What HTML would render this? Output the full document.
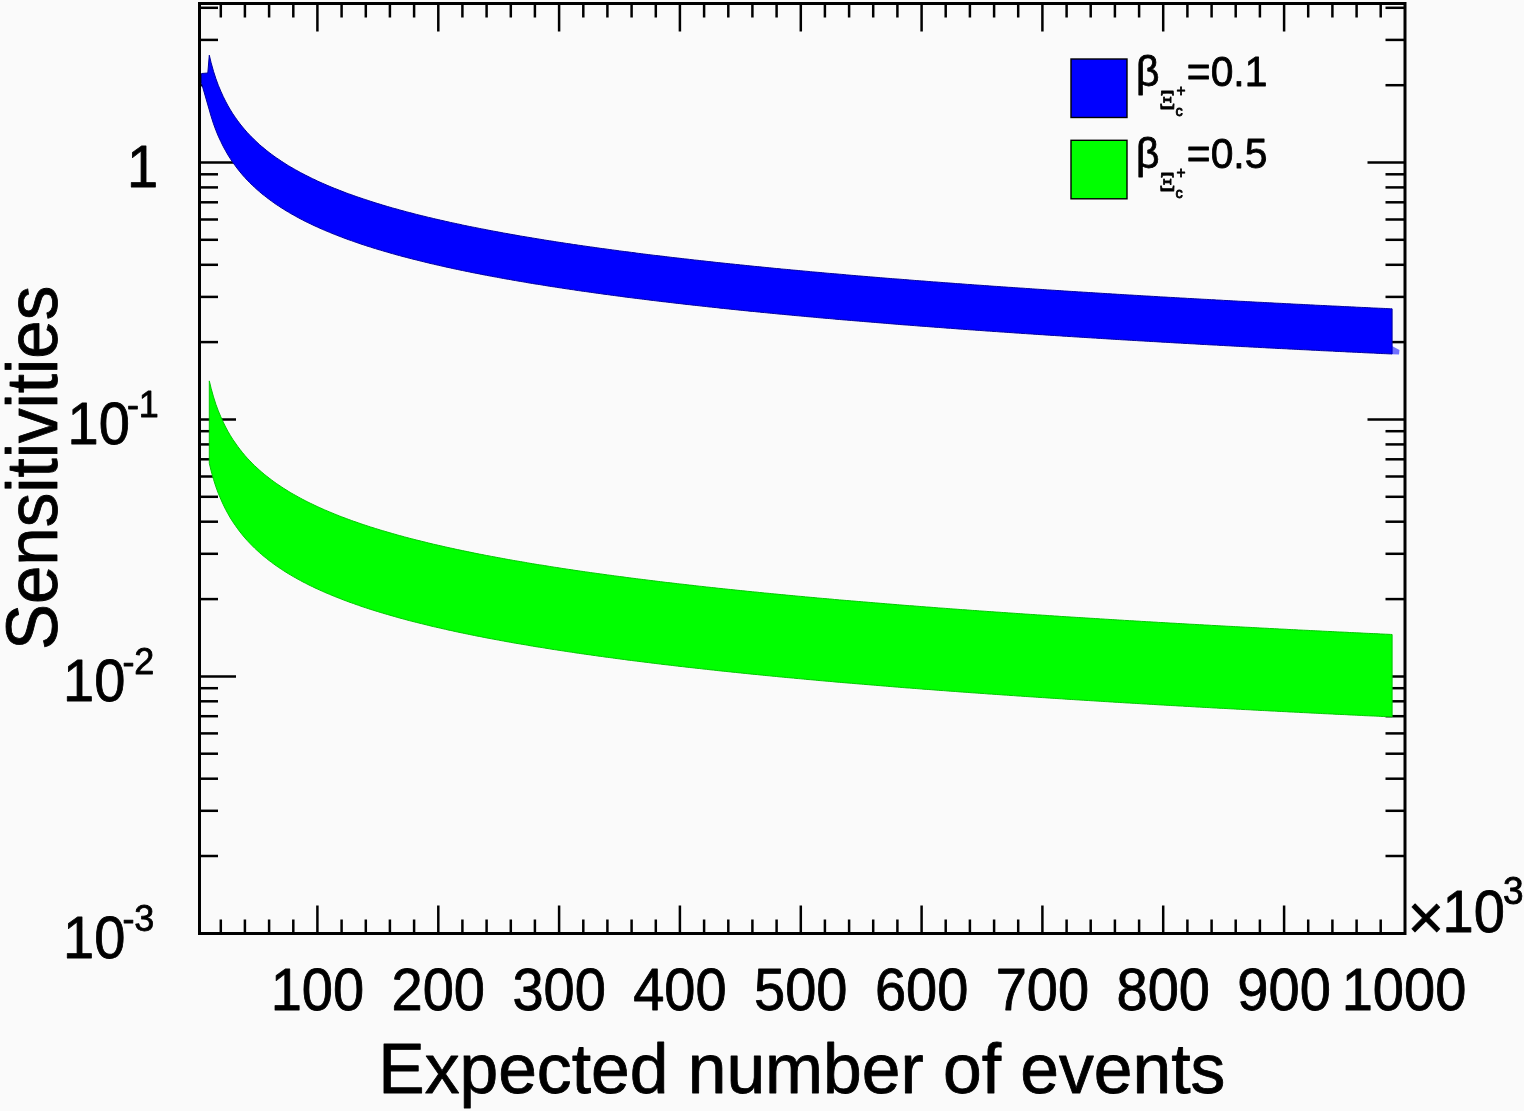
<!DOCTYPE html>
<html><head><meta charset="utf-8"><title>Sensitivities</title>
<style>
html,body{margin:0;padding:0;background:#fafafa;}
body{width:1524px;height:1111px;overflow:hidden;}
svg{display:block;}
text{font-family:"Liberation Sans",sans-serif;fill:#000;stroke:#000;stroke-width:0.8px;stroke-linejoin:round;}
.ser{font-family:"Liberation Serif","DejaVu Serif",serif;}
</style></head><body>
<svg width="1524" height="1111" viewBox="0 0 1524 1111">
<rect x="0" y="0" width="1524" height="1111" fill="#fafafa"/>
<rect x="199.5" y="3.5" width="1205.5" height="930.0" fill="none" stroke="#000" stroke-width="3"/>
<g stroke="#000" stroke-width="2.5">
<line x1="220.8" y1="933.5" x2="220.8" y2="919.5"/>
<line x1="220.8" y1="3.5" x2="220.8" y2="17.5"/>
<line x1="244.9" y1="933.5" x2="244.9" y2="919.5"/>
<line x1="244.9" y1="3.5" x2="244.9" y2="17.5"/>
<line x1="269.1" y1="933.5" x2="269.1" y2="919.5"/>
<line x1="269.1" y1="3.5" x2="269.1" y2="17.5"/>
<line x1="293.3" y1="933.5" x2="293.3" y2="919.5"/>
<line x1="293.3" y1="3.5" x2="293.3" y2="17.5"/>
<line x1="317.4" y1="933.5" x2="317.4" y2="905.5"/>
<line x1="317.4" y1="3.5" x2="317.4" y2="31.5"/>
<line x1="341.6" y1="933.5" x2="341.6" y2="919.5"/>
<line x1="341.6" y1="3.5" x2="341.6" y2="17.5"/>
<line x1="365.8" y1="933.5" x2="365.8" y2="919.5"/>
<line x1="365.8" y1="3.5" x2="365.8" y2="17.5"/>
<line x1="389.9" y1="933.5" x2="389.9" y2="919.5"/>
<line x1="389.9" y1="3.5" x2="389.9" y2="17.5"/>
<line x1="414.1" y1="933.5" x2="414.1" y2="919.5"/>
<line x1="414.1" y1="3.5" x2="414.1" y2="17.5"/>
<line x1="438.3" y1="933.5" x2="438.3" y2="905.5"/>
<line x1="438.3" y1="3.5" x2="438.3" y2="31.5"/>
<line x1="462.4" y1="933.5" x2="462.4" y2="919.5"/>
<line x1="462.4" y1="3.5" x2="462.4" y2="17.5"/>
<line x1="486.6" y1="933.5" x2="486.6" y2="919.5"/>
<line x1="486.6" y1="3.5" x2="486.6" y2="17.5"/>
<line x1="510.8" y1="933.5" x2="510.8" y2="919.5"/>
<line x1="510.8" y1="3.5" x2="510.8" y2="17.5"/>
<line x1="534.9" y1="933.5" x2="534.9" y2="919.5"/>
<line x1="534.9" y1="3.5" x2="534.9" y2="17.5"/>
<line x1="559.1" y1="933.5" x2="559.1" y2="905.5"/>
<line x1="559.1" y1="3.5" x2="559.1" y2="31.5"/>
<line x1="583.3" y1="933.5" x2="583.3" y2="919.5"/>
<line x1="583.3" y1="3.5" x2="583.3" y2="17.5"/>
<line x1="607.4" y1="933.5" x2="607.4" y2="919.5"/>
<line x1="607.4" y1="3.5" x2="607.4" y2="17.5"/>
<line x1="631.6" y1="933.5" x2="631.6" y2="919.5"/>
<line x1="631.6" y1="3.5" x2="631.6" y2="17.5"/>
<line x1="655.8" y1="933.5" x2="655.8" y2="919.5"/>
<line x1="655.8" y1="3.5" x2="655.8" y2="17.5"/>
<line x1="679.9" y1="933.5" x2="679.9" y2="905.5"/>
<line x1="679.9" y1="3.5" x2="679.9" y2="31.5"/>
<line x1="704.1" y1="933.5" x2="704.1" y2="919.5"/>
<line x1="704.1" y1="3.5" x2="704.1" y2="17.5"/>
<line x1="728.3" y1="933.5" x2="728.3" y2="919.5"/>
<line x1="728.3" y1="3.5" x2="728.3" y2="17.5"/>
<line x1="752.4" y1="933.5" x2="752.4" y2="919.5"/>
<line x1="752.4" y1="3.5" x2="752.4" y2="17.5"/>
<line x1="776.6" y1="933.5" x2="776.6" y2="919.5"/>
<line x1="776.6" y1="3.5" x2="776.6" y2="17.5"/>
<line x1="800.8" y1="933.5" x2="800.8" y2="905.5"/>
<line x1="800.8" y1="3.5" x2="800.8" y2="31.5"/>
<line x1="824.9" y1="933.5" x2="824.9" y2="919.5"/>
<line x1="824.9" y1="3.5" x2="824.9" y2="17.5"/>
<line x1="849.1" y1="933.5" x2="849.1" y2="919.5"/>
<line x1="849.1" y1="3.5" x2="849.1" y2="17.5"/>
<line x1="873.2" y1="933.5" x2="873.2" y2="919.5"/>
<line x1="873.2" y1="3.5" x2="873.2" y2="17.5"/>
<line x1="897.4" y1="933.5" x2="897.4" y2="919.5"/>
<line x1="897.4" y1="3.5" x2="897.4" y2="17.5"/>
<line x1="921.6" y1="933.5" x2="921.6" y2="905.5"/>
<line x1="921.6" y1="3.5" x2="921.6" y2="31.5"/>
<line x1="945.7" y1="933.5" x2="945.7" y2="919.5"/>
<line x1="945.7" y1="3.5" x2="945.7" y2="17.5"/>
<line x1="969.9" y1="933.5" x2="969.9" y2="919.5"/>
<line x1="969.9" y1="3.5" x2="969.9" y2="17.5"/>
<line x1="994.1" y1="933.5" x2="994.1" y2="919.5"/>
<line x1="994.1" y1="3.5" x2="994.1" y2="17.5"/>
<line x1="1018.2" y1="933.5" x2="1018.2" y2="919.5"/>
<line x1="1018.2" y1="3.5" x2="1018.2" y2="17.5"/>
<line x1="1042.4" y1="933.5" x2="1042.4" y2="905.5"/>
<line x1="1042.4" y1="3.5" x2="1042.4" y2="31.5"/>
<line x1="1066.6" y1="933.5" x2="1066.6" y2="919.5"/>
<line x1="1066.6" y1="3.5" x2="1066.6" y2="17.5"/>
<line x1="1090.7" y1="933.5" x2="1090.7" y2="919.5"/>
<line x1="1090.7" y1="3.5" x2="1090.7" y2="17.5"/>
<line x1="1114.9" y1="933.5" x2="1114.9" y2="919.5"/>
<line x1="1114.9" y1="3.5" x2="1114.9" y2="17.5"/>
<line x1="1139.1" y1="933.5" x2="1139.1" y2="919.5"/>
<line x1="1139.1" y1="3.5" x2="1139.1" y2="17.5"/>
<line x1="1163.2" y1="933.5" x2="1163.2" y2="905.5"/>
<line x1="1163.2" y1="3.5" x2="1163.2" y2="31.5"/>
<line x1="1187.4" y1="933.5" x2="1187.4" y2="919.5"/>
<line x1="1187.4" y1="3.5" x2="1187.4" y2="17.5"/>
<line x1="1211.6" y1="933.5" x2="1211.6" y2="919.5"/>
<line x1="1211.6" y1="3.5" x2="1211.6" y2="17.5"/>
<line x1="1235.7" y1="933.5" x2="1235.7" y2="919.5"/>
<line x1="1235.7" y1="3.5" x2="1235.7" y2="17.5"/>
<line x1="1259.9" y1="933.5" x2="1259.9" y2="919.5"/>
<line x1="1259.9" y1="3.5" x2="1259.9" y2="17.5"/>
<line x1="1284.1" y1="933.5" x2="1284.1" y2="905.5"/>
<line x1="1284.1" y1="3.5" x2="1284.1" y2="31.5"/>
<line x1="1308.2" y1="933.5" x2="1308.2" y2="919.5"/>
<line x1="1308.2" y1="3.5" x2="1308.2" y2="17.5"/>
<line x1="1332.4" y1="933.5" x2="1332.4" y2="919.5"/>
<line x1="1332.4" y1="3.5" x2="1332.4" y2="17.5"/>
<line x1="1356.6" y1="933.5" x2="1356.6" y2="919.5"/>
<line x1="1356.6" y1="3.5" x2="1356.6" y2="17.5"/>
<line x1="1380.7" y1="933.5" x2="1380.7" y2="919.5"/>
<line x1="1380.7" y1="3.5" x2="1380.7" y2="17.5"/>
<line x1="199.5" y1="856.0" x2="218.0" y2="856.0"/>
<line x1="1405.0" y1="856.0" x2="1385.5" y2="856.0"/>
<line x1="199.5" y1="810.8" x2="218.0" y2="810.8"/>
<line x1="1405.0" y1="810.8" x2="1385.5" y2="810.8"/>
<line x1="199.5" y1="778.7" x2="218.0" y2="778.7"/>
<line x1="1405.0" y1="778.7" x2="1385.5" y2="778.7"/>
<line x1="199.5" y1="753.7" x2="218.0" y2="753.7"/>
<line x1="1405.0" y1="753.7" x2="1385.5" y2="753.7"/>
<line x1="199.5" y1="733.4" x2="218.0" y2="733.4"/>
<line x1="1405.0" y1="733.4" x2="1385.5" y2="733.4"/>
<line x1="199.5" y1="716.2" x2="218.0" y2="716.2"/>
<line x1="1405.0" y1="716.2" x2="1385.5" y2="716.2"/>
<line x1="199.5" y1="701.3" x2="218.0" y2="701.3"/>
<line x1="1405.0" y1="701.3" x2="1385.5" y2="701.3"/>
<line x1="199.5" y1="688.2" x2="218.0" y2="688.2"/>
<line x1="1405.0" y1="688.2" x2="1385.5" y2="688.2"/>
<line x1="199.5" y1="676.4" x2="236.0" y2="676.4"/>
<line x1="1405.0" y1="676.4" x2="1367.5" y2="676.4"/>
<line x1="199.5" y1="599.1" x2="218.0" y2="599.1"/>
<line x1="1405.0" y1="599.1" x2="1385.5" y2="599.1"/>
<line x1="199.5" y1="553.8" x2="218.0" y2="553.8"/>
<line x1="1405.0" y1="553.8" x2="1385.5" y2="553.8"/>
<line x1="199.5" y1="521.7" x2="218.0" y2="521.7"/>
<line x1="1405.0" y1="521.7" x2="1385.5" y2="521.7"/>
<line x1="199.5" y1="496.8" x2="218.0" y2="496.8"/>
<line x1="1405.0" y1="496.8" x2="1385.5" y2="496.8"/>
<line x1="199.5" y1="476.5" x2="218.0" y2="476.5"/>
<line x1="1405.0" y1="476.5" x2="1385.5" y2="476.5"/>
<line x1="199.5" y1="459.3" x2="218.0" y2="459.3"/>
<line x1="1405.0" y1="459.3" x2="1385.5" y2="459.3"/>
<line x1="199.5" y1="444.4" x2="218.0" y2="444.4"/>
<line x1="1405.0" y1="444.4" x2="1385.5" y2="444.4"/>
<line x1="199.5" y1="431.2" x2="218.0" y2="431.2"/>
<line x1="1405.0" y1="431.2" x2="1385.5" y2="431.2"/>
<line x1="199.5" y1="419.4" x2="236.0" y2="419.4"/>
<line x1="1405.0" y1="419.4" x2="1367.5" y2="419.4"/>
<line x1="199.5" y1="342.1" x2="218.0" y2="342.1"/>
<line x1="1405.0" y1="342.1" x2="1385.5" y2="342.1"/>
<line x1="199.5" y1="296.9" x2="218.0" y2="296.9"/>
<line x1="1405.0" y1="296.9" x2="1385.5" y2="296.9"/>
<line x1="199.5" y1="264.8" x2="218.0" y2="264.8"/>
<line x1="1405.0" y1="264.8" x2="1385.5" y2="264.8"/>
<line x1="199.5" y1="239.8" x2="218.0" y2="239.8"/>
<line x1="1405.0" y1="239.8" x2="1385.5" y2="239.8"/>
<line x1="199.5" y1="219.5" x2="218.0" y2="219.5"/>
<line x1="1405.0" y1="219.5" x2="1385.5" y2="219.5"/>
<line x1="199.5" y1="202.3" x2="218.0" y2="202.3"/>
<line x1="1405.0" y1="202.3" x2="1385.5" y2="202.3"/>
<line x1="199.5" y1="187.4" x2="218.0" y2="187.4"/>
<line x1="1405.0" y1="187.4" x2="1385.5" y2="187.4"/>
<line x1="199.5" y1="174.3" x2="218.0" y2="174.3"/>
<line x1="1405.0" y1="174.3" x2="1385.5" y2="174.3"/>
<line x1="199.5" y1="162.5" x2="236.0" y2="162.5"/>
<line x1="1405.0" y1="162.5" x2="1367.5" y2="162.5"/>
<line x1="199.5" y1="85.2" x2="218.0" y2="85.2"/>
<line x1="1405.0" y1="85.2" x2="1385.5" y2="85.2"/>
<line x1="199.5" y1="39.9" x2="218.0" y2="39.9"/>
<line x1="1405.0" y1="39.9" x2="1385.5" y2="39.9"/>
<line x1="199.5" y1="7.8" x2="218.0" y2="7.8"/>
<line x1="1405.0" y1="7.8" x2="1385.5" y2="7.8"/>
</g>
<polygon points="201.5,83.0 201.5,73.5 207.8,73.0 209.3,55.2 211.1,62.7 213.5,71.3 215.9,78.7 218.3,85.3 220.8,91.2 223.2,96.5 225.6,101.3 228.0,105.8 230.4,109.9 232.8,113.8 235.3,117.4 237.7,120.8 240.1,124.0 242.5,127.0 244.9,129.8 247.3,132.6 249.8,135.2 252.2,137.6 254.6,140.0 257.0,142.3 259.4,144.5 261.8,146.6 264.3,148.6 266.7,150.6 269.1,152.5 271.5,154.3 273.9,156.1 276.3,157.8 278.8,159.4 281.2,161.1 283.6,162.6 286.0,164.2 288.4,165.7 290.8,167.1 293.3,168.5 295.7,169.9 298.1,171.2 300.5,172.6 302.9,173.8 305.3,175.1 307.8,176.3 310.2,177.5 312.6,178.7 315.0,179.8 317.4,181.0 319.8,182.1 322.3,183.2 324.7,184.2 327.1,185.3 329.5,186.3 331.9,187.3 334.3,188.3 336.8,189.2 339.2,190.2 341.6,191.1 344.0,192.1 346.4,193.0 348.8,193.9 351.3,194.7 353.7,195.6 356.1,196.5 358.5,197.3 360.9,198.1 363.3,198.9 365.8,199.7 368.2,200.5 370.6,201.3 373.0,202.1 375.4,202.8 377.8,203.6 380.3,204.3 382.7,205.1 385.1,205.8 387.5,206.5 389.9,207.2 392.3,207.9 394.8,208.6 397.2,209.2 399.6,209.9 402.0,210.6 404.4,211.2 406.8,211.9 409.3,212.5 411.7,213.1 414.1,213.8 416.5,214.4 418.9,215.0 421.3,215.6 423.8,216.2 426.2,216.8 428.6,217.4 431.0,217.9 433.4,218.5 435.8,219.1 438.3,219.6 440.7,220.2 443.1,220.7 445.5,221.3 447.9,221.8 450.3,222.4 452.8,222.9 455.2,223.4 457.6,223.9 460.0,224.4 462.4,225.0 464.8,225.5 467.3,226.0 469.7,226.5 472.1,227.0 474.5,227.4 476.9,227.9 479.3,228.4 481.8,228.9 484.2,229.3 486.6,229.8 489.0,230.3 491.4,230.7 493.8,231.2 496.3,231.6 498.7,232.1 501.1,232.5 503.5,233.0 505.9,233.4 508.3,233.8 510.8,234.3 513.2,234.7 515.6,235.1 518.0,235.6 520.4,236.0 522.8,236.4 525.3,236.8 527.7,237.2 530.1,237.6 532.5,238.0 534.9,238.4 537.3,238.8 539.8,239.2 542.2,239.6 544.6,240.0 547.0,240.4 549.4,240.8 551.8,241.1 554.3,241.5 556.7,241.9 559.1,242.3 561.5,242.6 563.9,243.0 566.3,243.4 568.8,243.7 571.2,244.1 573.6,244.5 576.0,244.8 578.4,245.2 580.8,245.5 583.3,245.9 585.7,246.2 588.1,246.6 590.5,246.9 592.9,247.2 595.3,247.6 597.8,247.9 600.2,248.3 602.6,248.6 605.0,248.9 607.4,249.2 609.8,249.6 612.3,249.9 614.7,250.2 617.1,250.5 619.5,250.9 621.9,251.2 624.3,251.5 626.8,251.8 629.2,252.1 631.6,252.4 634.0,252.7 636.4,253.1 638.8,253.4 641.3,253.7 643.7,254.0 646.1,254.3 648.5,254.6 650.9,254.9 653.3,255.2 655.8,255.5 658.2,255.7 660.6,256.0 663.0,256.3 665.4,256.6 667.8,256.9 670.3,257.2 672.7,257.5 675.1,257.8 677.5,258.0 679.9,258.3 682.3,258.6 684.8,258.9 687.2,259.1 689.6,259.4 692.0,259.7 694.4,260.0 696.8,260.2 699.3,260.5 701.7,260.8 704.1,261.0 706.5,261.3 708.9,261.6 711.3,261.8 713.8,262.1 716.2,262.4 718.6,262.6 721.0,262.9 723.4,263.1 725.8,263.4 728.3,263.6 730.7,263.9 733.1,264.1 735.5,264.4 737.9,264.6 740.3,264.9 742.8,265.1 745.2,265.4 747.6,265.6 750.0,265.9 752.4,266.1 754.8,266.4 757.3,266.6 759.7,266.8 762.1,267.1 764.5,267.3 766.9,267.6 769.3,267.8 771.8,268.0 774.2,268.3 776.6,268.5 779.0,268.7 781.4,269.0 783.8,269.2 786.3,269.4 788.7,269.6 791.1,269.9 793.5,270.1 795.9,270.3 798.3,270.5 800.8,270.8 803.2,271.0 805.6,271.2 808.0,271.4 810.4,271.7 812.8,271.9 815.2,272.1 817.7,272.3 820.1,272.5 822.5,272.7 824.9,273.0 827.3,273.2 829.7,273.4 832.2,273.6 834.6,273.8 837.0,274.0 839.4,274.2 841.8,274.4 844.2,274.6 846.7,274.9 849.1,275.1 851.5,275.3 853.9,275.5 856.3,275.7 858.7,275.9 861.2,276.1 863.6,276.3 866.0,276.5 868.4,276.7 870.8,276.9 873.2,277.1 875.7,277.3 878.1,277.5 880.5,277.7 882.9,277.9 885.3,278.1 887.7,278.3 890.2,278.5 892.6,278.7 895.0,278.9 897.4,279.0 899.8,279.2 902.2,279.4 904.7,279.6 907.1,279.8 909.5,280.0 911.9,280.2 914.3,280.4 916.7,280.6 919.2,280.8 921.6,280.9 924.0,281.1 926.4,281.3 928.8,281.5 931.2,281.7 933.7,281.9 936.1,282.0 938.5,282.2 940.9,282.4 943.3,282.6 945.7,282.8 948.2,282.9 950.6,283.1 953.0,283.3 955.4,283.5 957.8,283.7 960.2,283.8 962.7,284.0 965.1,284.2 967.5,284.4 969.9,284.5 972.3,284.7 974.7,284.9 977.2,285.1 979.6,285.2 982.0,285.4 984.4,285.6 986.8,285.7 989.2,285.9 991.7,286.1 994.1,286.3 996.5,286.4 998.9,286.6 1001.3,286.8 1003.7,286.9 1006.2,287.1 1008.6,287.3 1011.0,287.4 1013.4,287.6 1015.8,287.8 1018.2,287.9 1020.7,288.1 1023.1,288.2 1025.5,288.4 1027.9,288.6 1030.3,288.7 1032.7,288.9 1035.2,289.1 1037.6,289.2 1040.0,289.4 1042.4,289.5 1044.8,289.7 1047.2,289.9 1049.7,290.0 1052.1,290.2 1054.5,290.3 1056.9,290.5 1059.3,290.6 1061.7,290.8 1064.2,291.0 1066.6,291.1 1069.0,291.3 1071.4,291.4 1073.8,291.6 1076.2,291.7 1078.7,291.9 1081.1,292.0 1083.5,292.2 1085.9,292.3 1088.3,292.5 1090.7,292.6 1093.2,292.8 1095.6,292.9 1098.0,293.1 1100.4,293.2 1102.8,293.4 1105.2,293.5 1107.7,293.7 1110.1,293.8 1112.5,294.0 1114.9,294.1 1117.3,294.3 1119.7,294.4 1122.2,294.6 1124.6,294.7 1127.0,294.9 1129.4,295.0 1131.8,295.1 1134.2,295.3 1136.7,295.4 1139.1,295.6 1141.5,295.7 1143.9,295.9 1146.3,296.0 1148.7,296.1 1151.2,296.3 1153.6,296.4 1156.0,296.6 1158.4,296.7 1160.8,296.9 1163.2,297.0 1165.7,297.1 1168.1,297.3 1170.5,297.4 1172.9,297.5 1175.3,297.7 1177.7,297.8 1180.2,298.0 1182.6,298.1 1185.0,298.2 1187.4,298.4 1189.8,298.5 1192.2,298.6 1194.7,298.8 1197.1,298.9 1199.5,299.0 1201.9,299.2 1204.3,299.3 1206.7,299.4 1209.2,299.6 1211.6,299.7 1214.0,299.8 1216.4,300.0 1218.8,300.1 1221.2,300.2 1223.7,300.4 1226.1,300.5 1228.5,300.6 1230.9,300.8 1233.3,300.9 1235.7,301.0 1238.2,301.2 1240.6,301.3 1243.0,301.4 1245.4,301.5 1247.8,301.7 1250.2,301.8 1252.7,301.9 1255.1,302.1 1257.5,302.2 1259.9,302.3 1262.3,302.4 1264.7,302.6 1267.2,302.7 1269.6,302.8 1272.0,302.9 1274.4,303.1 1276.8,303.2 1279.2,303.3 1281.7,303.4 1284.1,303.6 1286.5,303.7 1288.9,303.8 1291.3,303.9 1293.7,304.1 1296.2,304.2 1298.6,304.3 1301.0,304.4 1303.4,304.5 1305.8,304.7 1308.2,304.8 1310.7,304.9 1313.1,305.0 1315.5,305.2 1317.9,305.3 1320.3,305.4 1322.7,305.5 1325.2,305.6 1327.6,305.8 1330.0,305.9 1332.4,306.0 1334.8,306.1 1337.2,306.2 1339.7,306.3 1342.1,306.5 1344.5,306.6 1346.9,306.7 1349.3,306.8 1351.7,306.9 1354.2,307.0 1356.6,307.2 1359.0,307.3 1361.4,307.4 1363.8,307.5 1366.2,307.6 1368.7,307.7 1371.1,307.9 1373.5,308.0 1375.9,308.1 1378.3,308.2 1380.7,308.3 1383.2,308.4 1385.6,308.5 1388.0,308.7 1390.4,308.8 1392.1,308.8 1392.1,354.0 1390.4,353.9 1388.0,353.8 1385.6,353.7 1383.2,353.6 1380.7,353.5 1378.3,353.4 1375.9,353.2 1373.5,353.1 1371.1,353.0 1368.7,352.9 1366.2,352.8 1363.8,352.7 1361.4,352.5 1359.0,352.4 1356.6,352.3 1354.2,352.2 1351.7,352.1 1349.3,352.0 1346.9,351.9 1344.5,351.7 1342.1,351.6 1339.7,351.5 1337.2,351.4 1334.8,351.3 1332.4,351.1 1330.0,351.0 1327.6,350.9 1325.2,350.8 1322.7,350.7 1320.3,350.6 1317.9,350.4 1315.5,350.3 1313.1,350.2 1310.7,350.1 1308.2,349.9 1305.8,349.8 1303.4,349.7 1301.0,349.6 1298.6,349.5 1296.2,349.3 1293.7,349.2 1291.3,349.1 1288.9,349.0 1286.5,348.8 1284.1,348.7 1281.7,348.6 1279.2,348.5 1276.8,348.4 1274.4,348.2 1272.0,348.1 1269.6,348.0 1267.2,347.9 1264.7,347.7 1262.3,347.6 1259.9,347.5 1257.5,347.3 1255.1,347.2 1252.7,347.1 1250.2,347.0 1247.8,346.8 1245.4,346.7 1243.0,346.6 1240.6,346.5 1238.2,346.3 1235.7,346.2 1233.3,346.1 1230.9,345.9 1228.5,345.8 1226.1,345.7 1223.7,345.5 1221.2,345.4 1218.8,345.3 1216.4,345.1 1214.0,345.0 1211.6,344.9 1209.2,344.8 1206.7,344.6 1204.3,344.5 1201.9,344.4 1199.5,344.2 1197.1,344.1 1194.7,343.9 1192.2,343.8 1189.8,343.7 1187.4,343.5 1185.0,343.4 1182.6,343.3 1180.2,343.1 1177.7,343.0 1175.3,342.9 1172.9,342.7 1170.5,342.6 1168.1,342.4 1165.7,342.3 1163.2,342.2 1160.8,342.0 1158.4,341.9 1156.0,341.7 1153.6,341.6 1151.2,341.5 1148.7,341.3 1146.3,341.2 1143.9,341.0 1141.5,340.9 1139.1,340.8 1136.7,340.6 1134.2,340.5 1131.8,340.3 1129.4,340.2 1127.0,340.0 1124.6,339.9 1122.2,339.8 1119.7,339.6 1117.3,339.5 1114.9,339.3 1112.5,339.2 1110.1,339.0 1107.7,338.9 1105.2,338.7 1102.8,338.6 1100.4,338.4 1098.0,338.3 1095.6,338.1 1093.2,338.0 1090.7,337.8 1088.3,337.7 1085.9,337.5 1083.5,337.4 1081.1,337.2 1078.7,337.1 1076.2,336.9 1073.8,336.8 1071.4,336.6 1069.0,336.5 1066.6,336.3 1064.2,336.2 1061.7,336.0 1059.3,335.8 1056.9,335.7 1054.5,335.5 1052.1,335.4 1049.7,335.2 1047.2,335.1 1044.8,334.9 1042.4,334.7 1040.0,334.6 1037.6,334.4 1035.2,334.3 1032.7,334.1 1030.3,333.9 1027.9,333.8 1025.5,333.6 1023.1,333.5 1020.7,333.3 1018.2,333.1 1015.8,333.0 1013.4,332.8 1011.0,332.6 1008.6,332.5 1006.2,332.3 1003.7,332.1 1001.3,332.0 998.9,331.8 996.5,331.6 994.1,331.5 991.7,331.3 989.2,331.1 986.8,331.0 984.4,330.8 982.0,330.6 979.6,330.4 977.2,330.3 974.7,330.1 972.3,329.9 969.9,329.8 967.5,329.6 965.1,329.4 962.7,329.2 960.2,329.1 957.8,328.9 955.4,328.7 953.0,328.5 950.6,328.3 948.2,328.2 945.7,328.0 943.3,327.8 940.9,327.6 938.5,327.4 936.1,327.3 933.7,327.1 931.2,326.9 928.8,326.7 926.4,326.5 924.0,326.3 921.6,326.2 919.2,326.0 916.7,325.8 914.3,325.6 911.9,325.4 909.5,325.2 907.1,325.0 904.7,324.9 902.2,324.7 899.8,324.5 897.4,324.3 895.0,324.1 892.6,323.9 890.2,323.7 887.7,323.5 885.3,323.3 882.9,323.1 880.5,322.9 878.1,322.7 875.7,322.5 873.2,322.3 870.8,322.1 868.4,321.9 866.0,321.7 863.6,321.5 861.2,321.3 858.7,321.1 856.3,320.9 853.9,320.7 851.5,320.5 849.1,320.3 846.7,320.1 844.2,319.9 841.8,319.7 839.4,319.5 837.0,319.3 834.6,319.1 832.2,318.8 829.7,318.6 827.3,318.4 824.9,318.2 822.5,318.0 820.1,317.8 817.7,317.6 815.2,317.3 812.8,317.1 810.4,316.9 808.0,316.7 805.6,316.5 803.2,316.2 800.8,316.0 798.3,315.8 795.9,315.6 793.5,315.4 791.1,315.1 788.7,314.9 786.3,314.7 783.8,314.4 781.4,314.2 779.0,314.0 776.6,313.8 774.2,313.5 771.8,313.3 769.3,313.1 766.9,312.8 764.5,312.6 762.1,312.4 759.7,312.1 757.3,311.9 754.8,311.6 752.4,311.4 750.0,311.2 747.6,310.9 745.2,310.7 742.8,310.4 740.3,310.2 737.9,309.9 735.5,309.7 733.1,309.4 730.7,309.2 728.3,308.9 725.8,308.7 723.4,308.4 721.0,308.2 718.6,307.9 716.2,307.6 713.8,307.4 711.3,307.1 708.9,306.9 706.5,306.6 704.1,306.3 701.7,306.1 699.3,305.8 696.8,305.5 694.4,305.3 692.0,305.0 689.6,304.7 687.2,304.5 684.8,304.2 682.3,303.9 679.9,303.6 677.5,303.4 675.1,303.1 672.7,302.8 670.3,302.5 667.8,302.2 665.4,301.9 663.0,301.7 660.6,301.4 658.2,301.1 655.8,300.8 653.3,300.5 650.9,300.2 648.5,299.9 646.1,299.6 643.7,299.3 641.3,299.0 638.8,298.7 636.4,298.4 634.0,298.1 631.6,297.8 629.2,297.5 626.8,297.2 624.3,296.9 621.9,296.5 619.5,296.2 617.1,295.9 614.7,295.6 612.3,295.3 609.8,294.9 607.4,294.6 605.0,294.3 602.6,294.0 600.2,293.6 597.8,293.3 595.3,293.0 592.9,292.6 590.5,292.3 588.1,291.9 585.7,291.6 583.3,291.3 580.8,290.9 578.4,290.6 576.0,290.2 573.6,289.8 571.2,289.5 568.8,289.1 566.3,288.8 563.9,288.4 561.5,288.0 559.1,287.7 556.7,287.3 554.3,286.9 551.8,286.6 549.4,286.2 547.0,285.8 544.6,285.4 542.2,285.0 539.8,284.6 537.3,284.2 534.9,283.9 532.5,283.5 530.1,283.1 527.7,282.7 525.3,282.2 522.8,281.8 520.4,281.4 518.0,281.0 515.6,280.6 513.2,280.2 510.8,279.7 508.3,279.3 505.9,278.9 503.5,278.5 501.1,278.0 498.7,277.6 496.3,277.1 493.8,276.7 491.4,276.2 489.0,275.8 486.6,275.3 484.2,274.9 481.8,274.4 479.3,273.9 476.9,273.4 474.5,273.0 472.1,272.5 469.7,272.0 467.3,271.5 464.8,271.0 462.4,270.5 460.0,270.0 457.6,269.5 455.2,269.0 452.8,268.5 450.3,267.9 447.9,267.4 445.5,266.9 443.1,266.3 440.7,265.8 438.3,265.2 435.8,264.7 433.4,264.1 431.0,263.6 428.6,263.0 426.2,262.4 423.8,261.8 421.3,261.2 418.9,260.6 416.5,260.0 414.1,259.4 411.7,258.8 409.3,258.2 406.8,257.5 404.4,256.9 402.0,256.3 399.6,255.6 397.2,255.0 394.8,254.3 392.3,253.6 389.9,252.9 387.5,252.2 385.1,251.5 382.7,250.8 380.3,250.1 377.8,249.4 375.4,248.6 373.0,247.9 370.6,247.1 368.2,246.4 365.8,245.6 363.3,244.8 360.9,244.0 358.5,243.2 356.1,242.3 353.7,241.5 351.3,240.6 348.8,239.8 346.4,238.9 344.0,238.0 341.6,237.1 339.2,236.2 336.8,235.2 334.3,234.3 331.9,233.3 329.5,232.3 327.1,231.3 324.7,230.3 322.3,229.3 319.8,228.2 317.4,227.1 315.0,226.0 312.6,224.9 310.2,223.7 307.8,222.6 305.3,221.4 302.9,220.1 300.5,218.9 298.1,217.6 295.7,216.3 293.3,214.9 290.8,213.6 288.4,212.1 286.0,210.7 283.6,209.2 281.2,207.7 278.8,206.1 276.3,204.5 273.9,202.8 271.5,201.1 269.1,199.3 266.7,197.5 264.3,195.6 261.8,193.7 259.4,191.6 257.0,189.5 254.6,187.3 252.2,185.1 249.8,182.7 247.3,180.2 244.9,177.6 242.5,174.9 240.1,172.0 237.7,169.0 235.3,165.8 232.8,162.4 230.4,158.8 228.0,155.0 225.6,150.8 223.2,146.4 220.8,141.5 218.3,136.2 215.9,130.3 213.5,123.8 211.1,116.3 209.3,110.0" fill="#0000ff" stroke="#0000a0" stroke-width="1" stroke-linejoin="round"/>
<polygon points="209.3,380.9 211.1,388.3 213.5,396.9 215.9,404.4 218.3,410.9 220.8,416.8 223.2,422.1 225.6,427.0 228.0,431.5 230.4,435.6 232.8,439.4 235.3,443.0 237.7,446.4 240.1,449.6 242.5,452.6 244.9,455.5 247.3,458.2 249.8,460.8 252.2,463.3 254.6,465.7 257.0,467.9 259.4,470.1 261.8,472.2 264.3,474.3 266.7,476.2 269.1,478.1 271.5,479.9 273.9,481.7 276.3,483.4 278.8,485.1 281.2,486.7 283.6,488.3 286.0,489.8 288.4,491.3 290.8,492.8 293.3,494.2 295.7,495.5 298.1,496.9 300.5,498.2 302.9,499.5 305.3,500.7 307.8,502.0 310.2,503.2 312.6,504.3 315.0,505.5 317.4,506.6 319.8,507.7 322.3,508.8 324.7,509.9 327.1,510.9 329.5,511.9 331.9,512.9 334.3,513.9 336.8,514.9 339.2,515.9 341.6,516.8 344.0,517.7 346.4,518.6 348.8,519.5 351.3,520.4 353.7,521.3 356.1,522.1 358.5,522.9 360.9,523.8 363.3,524.6 365.8,525.4 368.2,526.2 370.6,527.0 373.0,527.7 375.4,528.5 377.8,529.2 380.3,530.0 382.7,530.7 385.1,531.4 387.5,532.1 389.9,532.8 392.3,533.5 394.8,534.2 397.2,534.9 399.6,535.6 402.0,536.2 404.4,536.9 406.8,537.5 409.3,538.2 411.7,538.8 414.1,539.4 416.5,540.0 418.9,540.6 421.3,541.2 423.8,541.8 426.2,542.4 428.6,543.0 431.0,543.6 433.4,544.2 435.8,544.7 438.3,545.3 440.7,545.8 443.1,546.4 445.5,546.9 447.9,547.5 450.3,548.0 452.8,548.5 455.2,549.1 457.6,549.6 460.0,550.1 462.4,550.6 464.8,551.1 467.3,551.6 469.7,552.1 472.1,552.6 474.5,553.1 476.9,553.6 479.3,554.1 481.8,554.5 484.2,555.0 486.6,555.5 489.0,555.9 491.4,556.4 493.8,556.8 496.3,557.3 498.7,557.7 501.1,558.2 503.5,558.6 505.9,559.1 508.3,559.5 510.8,559.9 513.2,560.4 515.6,560.8 518.0,561.2 520.4,561.6 522.8,562.0 525.3,562.4 527.7,562.9 530.1,563.3 532.5,563.7 534.9,564.1 537.3,564.5 539.8,564.9 542.2,565.2 544.6,565.6 547.0,566.0 549.4,566.4 551.8,566.8 554.3,567.2 556.7,567.5 559.1,567.9 561.5,568.3 563.9,568.7 566.3,569.0 568.8,569.4 571.2,569.7 573.6,570.1 576.0,570.5 578.4,570.8 580.8,571.2 583.3,571.5 585.7,571.9 588.1,572.2 590.5,572.6 592.9,572.9 595.3,573.2 597.8,573.6 600.2,573.9 602.6,574.2 605.0,574.6 607.4,574.9 609.8,575.2 612.3,575.5 614.7,575.9 617.1,576.2 619.5,576.5 621.9,576.8 624.3,577.1 626.8,577.5 629.2,577.8 631.6,578.1 634.0,578.4 636.4,578.7 638.8,579.0 641.3,579.3 643.7,579.6 646.1,579.9 648.5,580.2 650.9,580.5 653.3,580.8 655.8,581.1 658.2,581.4 660.6,581.7 663.0,582.0 665.4,582.3 667.8,582.6 670.3,582.8 672.7,583.1 675.1,583.4 677.5,583.7 679.9,584.0 682.3,584.2 684.8,584.5 687.2,584.8 689.6,585.1 692.0,585.3 694.4,585.6 696.8,585.9 699.3,586.2 701.7,586.4 704.1,586.7 706.5,587.0 708.9,587.2 711.3,587.5 713.8,587.7 716.2,588.0 718.6,588.3 721.0,588.5 723.4,588.8 725.8,589.0 728.3,589.3 730.7,589.5 733.1,589.8 735.5,590.0 737.9,590.3 740.3,590.5 742.8,590.8 745.2,591.0 747.6,591.3 750.0,591.5 752.4,591.8 754.8,592.0 757.3,592.2 759.7,592.5 762.1,592.7 764.5,593.0 766.9,593.2 769.3,593.4 771.8,593.7 774.2,593.9 776.6,594.1 779.0,594.4 781.4,594.6 783.8,594.8 786.3,595.1 788.7,595.3 791.1,595.5 793.5,595.7 795.9,596.0 798.3,596.2 800.8,596.4 803.2,596.6 805.6,596.9 808.0,597.1 810.4,597.3 812.8,597.5 815.2,597.7 817.7,598.0 820.1,598.2 822.5,598.4 824.9,598.6 827.3,598.8 829.7,599.0 832.2,599.2 834.6,599.5 837.0,599.7 839.4,599.9 841.8,600.1 844.2,600.3 846.7,600.5 849.1,600.7 851.5,600.9 853.9,601.1 856.3,601.3 858.7,601.5 861.2,601.7 863.6,601.9 866.0,602.1 868.4,602.3 870.8,602.5 873.2,602.7 875.7,602.9 878.1,603.1 880.5,603.3 882.9,603.5 885.3,603.7 887.7,603.9 890.2,604.1 892.6,604.3 895.0,604.5 897.4,604.7 899.8,604.9 902.2,605.1 904.7,605.3 907.1,605.5 909.5,605.7 911.9,605.8 914.3,606.0 916.7,606.2 919.2,606.4 921.6,606.6 924.0,606.8 926.4,607.0 928.8,607.1 931.2,607.3 933.7,607.5 936.1,607.7 938.5,607.9 940.9,608.1 943.3,608.2 945.7,608.4 948.2,608.6 950.6,608.8 953.0,609.0 955.4,609.1 957.8,609.3 960.2,609.5 962.7,609.7 965.1,609.8 967.5,610.0 969.9,610.2 972.3,610.4 974.7,610.5 977.2,610.7 979.6,610.9 982.0,611.1 984.4,611.2 986.8,611.4 989.2,611.6 991.7,611.7 994.1,611.9 996.5,612.1 998.9,612.2 1001.3,612.4 1003.7,612.6 1006.2,612.7 1008.6,612.9 1011.0,613.1 1013.4,613.2 1015.8,613.4 1018.2,613.6 1020.7,613.7 1023.1,613.9 1025.5,614.1 1027.9,614.2 1030.3,614.4 1032.7,614.5 1035.2,614.7 1037.6,614.9 1040.0,615.0 1042.4,615.2 1044.8,615.3 1047.2,615.5 1049.7,615.7 1052.1,615.8 1054.5,616.0 1056.9,616.1 1059.3,616.3 1061.7,616.5 1064.2,616.6 1066.6,616.8 1069.0,616.9 1071.4,617.1 1073.8,617.2 1076.2,617.4 1078.7,617.5 1081.1,617.7 1083.5,617.8 1085.9,618.0 1088.3,618.1 1090.7,618.3 1093.2,618.4 1095.6,618.6 1098.0,618.7 1100.4,618.9 1102.8,619.0 1105.2,619.2 1107.7,619.3 1110.1,619.5 1112.5,619.6 1114.9,619.8 1117.3,619.9 1119.7,620.1 1122.2,620.2 1124.6,620.4 1127.0,620.5 1129.4,620.7 1131.8,620.8 1134.2,620.9 1136.7,621.1 1139.1,621.2 1141.5,621.4 1143.9,621.5 1146.3,621.7 1148.7,621.8 1151.2,621.9 1153.6,622.1 1156.0,622.2 1158.4,622.4 1160.8,622.5 1163.2,622.6 1165.7,622.8 1168.1,622.9 1170.5,623.1 1172.9,623.2 1175.3,623.3 1177.7,623.5 1180.2,623.6 1182.6,623.7 1185.0,623.9 1187.4,624.0 1189.8,624.2 1192.2,624.3 1194.7,624.4 1197.1,624.6 1199.5,624.7 1201.9,624.8 1204.3,625.0 1206.7,625.1 1209.2,625.2 1211.6,625.4 1214.0,625.5 1216.4,625.6 1218.8,625.8 1221.2,625.9 1223.7,626.0 1226.1,626.2 1228.5,626.3 1230.9,626.4 1233.3,626.5 1235.7,626.7 1238.2,626.8 1240.6,626.9 1243.0,627.1 1245.4,627.2 1247.8,627.3 1250.2,627.4 1252.7,627.6 1255.1,627.7 1257.5,627.8 1259.9,628.0 1262.3,628.1 1264.7,628.2 1267.2,628.3 1269.6,628.5 1272.0,628.6 1274.4,628.7 1276.8,628.8 1279.2,629.0 1281.7,629.1 1284.1,629.2 1286.5,629.3 1288.9,629.5 1291.3,629.6 1293.7,629.7 1296.2,629.8 1298.6,630.0 1301.0,630.1 1303.4,630.2 1305.8,630.3 1308.2,630.4 1310.7,630.6 1313.1,630.7 1315.5,630.8 1317.9,630.9 1320.3,631.0 1322.7,631.2 1325.2,631.3 1327.6,631.4 1330.0,631.5 1332.4,631.6 1334.8,631.8 1337.2,631.9 1339.7,632.0 1342.1,632.1 1344.5,632.2 1346.9,632.3 1349.3,632.5 1351.7,632.6 1354.2,632.7 1356.6,632.8 1359.0,632.9 1361.4,633.0 1363.8,633.2 1366.2,633.3 1368.7,633.4 1371.1,633.5 1373.5,633.6 1375.9,633.7 1378.3,633.8 1380.7,634.0 1383.2,634.1 1385.6,634.2 1388.0,634.3 1390.4,634.4 1392.1,634.5 1392.1,716.9 1390.4,716.8 1388.0,716.7 1385.6,716.6 1383.2,716.5 1380.7,716.4 1378.3,716.2 1375.9,716.1 1373.5,716.0 1371.1,715.9 1368.7,715.8 1366.2,715.7 1363.8,715.6 1361.4,715.4 1359.0,715.3 1356.6,715.2 1354.2,715.1 1351.7,715.0 1349.3,714.9 1346.9,714.7 1344.5,714.6 1342.1,714.5 1339.7,714.4 1337.2,714.3 1334.8,714.2 1332.4,714.0 1330.0,713.9 1327.6,713.8 1325.2,713.7 1322.7,713.6 1320.3,713.4 1317.9,713.3 1315.5,713.2 1313.1,713.1 1310.7,713.0 1308.2,712.8 1305.8,712.7 1303.4,712.6 1301.0,712.5 1298.6,712.3 1296.2,712.2 1293.7,712.1 1291.3,712.0 1288.9,711.9 1286.5,711.7 1284.1,711.6 1281.7,711.5 1279.2,711.4 1276.8,711.2 1274.4,711.1 1272.0,711.0 1269.6,710.9 1267.2,710.7 1264.7,710.6 1262.3,710.5 1259.9,710.4 1257.5,710.2 1255.1,710.1 1252.7,710.0 1250.2,709.8 1247.8,709.7 1245.4,709.6 1243.0,709.5 1240.6,709.3 1238.2,709.2 1235.7,709.1 1233.3,708.9 1230.9,708.8 1228.5,708.7 1226.1,708.5 1223.7,708.4 1221.2,708.3 1218.8,708.2 1216.4,708.0 1214.0,707.9 1211.6,707.8 1209.2,707.6 1206.7,707.5 1204.3,707.4 1201.9,707.2 1199.5,707.1 1197.1,707.0 1194.7,706.8 1192.2,706.7 1189.8,706.5 1187.4,706.4 1185.0,706.3 1182.6,706.1 1180.2,706.0 1177.7,705.9 1175.3,705.7 1172.9,705.6 1170.5,705.5 1168.1,705.3 1165.7,705.2 1163.2,705.0 1160.8,704.9 1158.4,704.8 1156.0,704.6 1153.6,704.5 1151.2,704.3 1148.7,704.2 1146.3,704.0 1143.9,703.9 1141.5,703.8 1139.1,703.6 1136.7,703.5 1134.2,703.3 1131.8,703.2 1129.4,703.0 1127.0,702.9 1124.6,702.8 1122.2,702.6 1119.7,702.5 1117.3,702.3 1114.9,702.2 1112.5,702.0 1110.1,701.9 1107.7,701.7 1105.2,701.6 1102.8,701.4 1100.4,701.3 1098.0,701.1 1095.6,701.0 1093.2,700.8 1090.7,700.7 1088.3,700.5 1085.9,700.4 1083.5,700.2 1081.1,700.1 1078.7,699.9 1076.2,699.8 1073.8,699.6 1071.4,699.5 1069.0,699.3 1066.6,699.2 1064.2,699.0 1061.7,698.8 1059.3,698.7 1056.9,698.5 1054.5,698.4 1052.1,698.2 1049.7,698.1 1047.2,697.9 1044.8,697.7 1042.4,697.6 1040.0,697.4 1037.6,697.3 1035.2,697.1 1032.7,696.9 1030.3,696.8 1027.9,696.6 1025.5,696.5 1023.1,696.3 1020.7,696.1 1018.2,696.0 1015.8,695.8 1013.4,695.6 1011.0,695.5 1008.6,695.3 1006.2,695.1 1003.7,695.0 1001.3,694.8 998.9,694.6 996.5,694.5 994.1,694.3 991.7,694.1 989.2,694.0 986.8,693.8 984.4,693.6 982.0,693.4 979.6,693.3 977.2,693.1 974.7,692.9 972.3,692.8 969.9,692.6 967.5,692.4 965.1,692.2 962.7,692.1 960.2,691.9 957.8,691.7 955.4,691.5 953.0,691.3 950.6,691.2 948.2,691.0 945.7,690.8 943.3,690.6 940.9,690.5 938.5,690.3 936.1,690.1 933.7,689.9 931.2,689.7 928.8,689.5 926.4,689.4 924.0,689.2 921.6,689.0 919.2,688.8 916.7,688.6 914.3,688.4 911.9,688.2 909.5,688.0 907.1,687.9 904.7,687.7 902.2,687.5 899.8,687.3 897.4,687.1 895.0,686.9 892.6,686.7 890.2,686.5 887.7,686.3 885.3,686.1 882.9,685.9 880.5,685.7 878.1,685.5 875.7,685.3 873.2,685.1 870.8,684.9 868.4,684.7 866.0,684.5 863.6,684.3 861.2,684.1 858.7,683.9 856.3,683.7 853.9,683.5 851.5,683.3 849.1,683.1 846.7,682.9 844.2,682.7 841.8,682.5 839.4,682.3 837.0,682.1 834.6,681.9 832.2,681.6 829.7,681.4 827.3,681.2 824.9,681.0 822.5,680.8 820.1,680.6 817.7,680.4 815.2,680.1 812.8,679.9 810.4,679.7 808.0,679.5 805.6,679.3 803.2,679.0 800.8,678.8 798.3,678.6 795.9,678.4 793.5,678.1 791.1,677.9 788.7,677.7 786.3,677.5 783.8,677.2 781.4,677.0 779.0,676.8 776.6,676.5 774.2,676.3 771.8,676.1 769.3,675.8 766.9,675.6 764.5,675.4 762.1,675.1 759.7,674.9 757.3,674.6 754.8,674.4 752.4,674.2 750.0,673.9 747.6,673.7 745.2,673.4 742.8,673.2 740.3,672.9 737.9,672.7 735.5,672.4 733.1,672.2 730.7,671.9 728.3,671.7 725.8,671.4 723.4,671.2 721.0,670.9 718.6,670.7 716.2,670.4 713.8,670.1 711.3,669.9 708.9,669.6 706.5,669.3 704.1,669.1 701.7,668.8 699.3,668.5 696.8,668.3 694.4,668.0 692.0,667.7 689.6,667.5 687.2,667.2 684.8,666.9 682.3,666.6 679.9,666.4 677.5,666.1 675.1,665.8 672.7,665.5 670.3,665.2 667.8,664.9 665.4,664.7 663.0,664.4 660.6,664.1 658.2,663.8 655.8,663.5 653.3,663.2 650.9,662.9 648.5,662.6 646.1,662.3 643.7,662.0 641.3,661.7 638.8,661.4 636.4,661.1 634.0,660.8 631.6,660.5 629.2,660.2 626.8,659.9 624.3,659.5 621.9,659.2 619.5,658.9 617.1,658.6 614.7,658.3 612.3,657.9 609.8,657.6 607.4,657.3 605.0,657.0 602.6,656.6 600.2,656.3 597.8,656.0 595.3,655.6 592.9,655.3 590.5,654.9 588.1,654.6 585.7,654.3 583.3,653.9 580.8,653.6 578.4,653.2 576.0,652.9 573.6,652.5 571.2,652.1 568.8,651.8 566.3,651.4 563.9,651.0 561.5,650.7 559.1,650.3 556.7,649.9 554.3,649.6 551.8,649.2 549.4,648.8 547.0,648.4 544.6,648.0 542.2,647.6 539.8,647.2 537.3,646.9 534.9,646.5 532.5,646.1 530.1,645.7 527.7,645.2 525.3,644.8 522.8,644.4 520.4,644.0 518.0,643.6 515.6,643.2 513.2,642.8 510.8,642.3 508.3,641.9 505.9,641.5 503.5,641.0 501.1,640.6 498.7,640.1 496.3,639.7 493.8,639.2 491.4,638.8 489.0,638.3 486.6,637.9 484.2,637.4 481.8,636.9 479.3,636.4 476.9,636.0 474.5,635.5 472.1,635.0 469.7,634.5 467.3,634.0 464.8,633.5 462.4,633.0 460.0,632.5 457.6,632.0 455.2,631.5 452.8,630.9 450.3,630.4 447.9,629.9 445.5,629.3 443.1,628.8 440.7,628.2 438.3,627.7 435.8,627.1 433.4,626.6 431.0,626.0 428.6,625.4 426.2,624.8 423.8,624.2 421.3,623.6 418.9,623.0 416.5,622.4 414.1,621.8 411.7,621.2 409.3,620.6 406.8,619.9 404.4,619.3 402.0,618.6 399.6,618.0 397.2,617.3 394.8,616.6 392.3,615.9 389.9,615.2 387.5,614.5 385.1,613.8 382.7,613.1 380.3,612.4 377.8,611.6 375.4,610.9 373.0,610.1 370.6,609.4 368.2,608.6 365.8,607.8 363.3,607.0 360.9,606.2 358.5,605.3 356.1,604.5 353.7,603.6 351.3,602.8 348.8,601.9 346.4,601.0 344.0,600.1 341.6,599.2 339.2,598.2 336.8,597.3 334.3,596.3 331.9,595.3 329.5,594.3 327.1,593.3 324.7,592.3 322.3,591.2 319.8,590.1 317.4,589.0 315.0,587.9 312.6,586.7 310.2,585.6 307.8,584.4 305.3,583.1 302.9,581.9 300.5,580.6 298.1,579.3 295.7,577.9 293.3,576.6 290.8,575.1 288.4,573.7 286.0,572.2 283.6,570.7 281.2,569.1 278.8,567.5 276.3,565.8 273.9,564.1 271.5,562.3 269.1,560.5 266.7,558.6 264.3,556.7 261.8,554.6 259.4,552.5 257.0,550.3 254.6,548.1 252.2,545.7 249.8,543.2 247.3,540.6 244.9,537.9 242.5,535.0 240.1,532.0 237.7,528.8 235.3,525.4 232.8,521.8 230.4,518.0 228.0,513.8 225.6,509.4 223.2,504.5 220.8,499.2 218.3,493.3 215.9,486.8 213.5,479.3 211.1,470.7 209.3,463.3" fill="#00ff00" stroke="#00c800" stroke-width="1" stroke-linejoin="round"/>
<polygon points="1392,346 1399.5,350 1399,354.5 1392,354.3" fill="#0000ff" fill-opacity="0.55"/>
<text transform="translate(317.43,1010.00) scale(1,1.045)" font-size="56" text-anchor="middle">100</text>
<text transform="translate(438.26,1010.00) scale(1,1.045)" font-size="56" text-anchor="middle">200</text>
<text transform="translate(559.09,1010.00) scale(1,1.045)" font-size="56" text-anchor="middle">300</text>
<text transform="translate(679.92,1010.00) scale(1,1.045)" font-size="56" text-anchor="middle">400</text>
<text transform="translate(800.75,1010.00) scale(1,1.045)" font-size="56" text-anchor="middle">500</text>
<text transform="translate(921.58,1010.00) scale(1,1.045)" font-size="56" text-anchor="middle">600</text>
<text transform="translate(1042.41,1010.00) scale(1,1.045)" font-size="56" text-anchor="middle">700</text>
<text transform="translate(1163.24,1010.00) scale(1,1.045)" font-size="56" text-anchor="middle">800</text>
<text transform="translate(1284.07,1010.00) scale(1,1.045)" font-size="56" text-anchor="middle">900</text>
<text transform="translate(1404.00,1010.00) scale(1,1.045)" font-size="56" text-anchor="middle">1000</text>
<text transform="translate(127.00,186.70) scale(1,1.045)" font-size="56" text-anchor="start">1</text>
<text transform="translate(67.60,444.25) scale(1,1.045)" font-size="56" text-anchor="start">10<tspan font-size="36" dx="-3" dy="-26">-1</tspan></text>
<text transform="translate(63.10,701.20) scale(1,1.045)" font-size="56" text-anchor="start">10<tspan font-size="36" dx="-3" dy="-26">-2</tspan></text>
<text transform="translate(63.10,958.15) scale(1,1.045)" font-size="56" text-anchor="start">10<tspan font-size="36" dx="-3" dy="-26">-3</tspan></text>
<text transform="translate(1407.45,938.70) scale(1,1)" font-size="62.8" text-anchor="start">×</text>
<text transform="translate(1442.60,932.00) scale(1,1.045)" font-size="56" text-anchor="start">10<tspan font-size="37" dx="-2" dy="-27">3</tspan></text>
<text transform="translate(801.80,1092.80) scale(1,1.02)" font-size="69.6" text-anchor="middle">Expected number of events</text>
<text transform="translate(57.20,467.90) rotate(-90) scale(1,1.05)" font-size="69" text-anchor="middle">Sensitivities</text>
<rect x="1071" y="59" width="56" height="58.5" fill="#0000ff" stroke="#000" stroke-width="1.4"/>
<text transform="translate(1135.97,86.30) scale(1,1.045)" font-size="40.8" text-anchor="start" stroke-width="0.4">β</text>
<text transform="translate(1159.35,109.30) scale(1,1.045)" font-size="25.2" text-anchor="start" class="ser">Ξ</text>
<text transform="translate(1175.58,115.80) scale(1,1.045)" font-size="14.5" text-anchor="start">c</text>
<text transform="translate(1176.44,96.30) scale(1,1.045)" font-size="15.5" text-anchor="start">+</text>
<text transform="translate(1186.81,86.30) scale(1,1.045)" font-size="40.8" text-anchor="start" stroke-width="0.4">=0.1</text>
<rect x="1071" y="140.3" width="56" height="58.5" fill="#00ff00" stroke="#000" stroke-width="1.4"/>
<text transform="translate(1135.97,168.00) scale(1,1.045)" font-size="40.8" text-anchor="start" stroke-width="0.4">β</text>
<text transform="translate(1159.35,191.00) scale(1,1.045)" font-size="25.2" text-anchor="start" class="ser">Ξ</text>
<text transform="translate(1175.58,197.50) scale(1,1.045)" font-size="14.5" text-anchor="start">c</text>
<text transform="translate(1176.44,178.00) scale(1,1.045)" font-size="15.5" text-anchor="start">+</text>
<text transform="translate(1186.81,168.00) scale(1,1.045)" font-size="40.8" text-anchor="start" stroke-width="0.4">=0.5</text>
</svg></body></html>
